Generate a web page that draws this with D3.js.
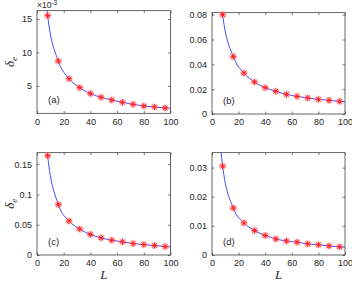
<!DOCTYPE html>
<html>
<head>
<meta charset="utf-8">
<script src="https://cdn.jsdelivr.net/npm/d3@7"></script>
<style>
  body { margin: 0; background: #fff; }
  svg { display: block; }
  .tick text { font-family: "Liberation Sans", Arial, sans-serif; font-size: 9px; fill: #262626; }
</style>
</head>
<body>
<div id="chart"></div>
<script>
// system size L at which delta_e was computed
const sizes = [8, 16, 24, 32, 40, 48, 56, 64, 72, 80, 88, 96];

// star markers (panel a in units of 1e-3)
const deltaA = [15.5, 8.71, 6.09, 4.75, 3.86, 3.31, 2.91, 2.56, 2.26, 2.01, 1.87, 1.72];
const deltaB = [0.0800, 0.0462, 0.0330, 0.0258, 0.0212, 0.0183, 0.0158, 0.0142, 0.0129, 0.0118, 0.0110, 0.0102];
const deltaC = [0.164, 0.0833, 0.0561, 0.0428, 0.0339, 0.0283, 0.0244, 0.0217, 0.0189, 0.0172, 0.0156, 0.0139];
const deltaD = [0.0305, 0.0161, 0.0110, 0.0084, 0.0067, 0.0055, 0.0048, 0.0044, 0.0038, 0.0035, 0.0031, 0.0028];

// blue fitted curve: extra ends (left end runs out the top)
const fitStartA = [7, 17.4],   fitEndA = [100, 1.67];
const fitStartB = [7, 0.089],  fitEndB = [100, 0.0099];
const fitStartC = [7, 0.186],  fitEndC = [100, 0.0133];
const fitStartD = [6.5, 0.0368], fitEndD = [100, 0.0027];

const xTicks = [0, 20, 40, 60, 80, 100];
const yTicksA = [5, 10, 15];
const yTicksB = [0, 0.02, 0.04, 0.06, 0.08];
const yTicksC = [0, 0.05, 0.1, 0.15];
const yTicksD = [0, 0.01, 0.02, 0.03];

const panels = [
  { tag: "(a)", stars: deltaA, fit: [fitStartA, fitEndA], yTicks: yTicksA, yDomain: [0.92, 16.24],
    box: { x0: 37, x1: 170.5, y0: 10.7, y1: 113.3 }, ylabel: true, xlabel: false, exp: true },
  { tag: "(b)", stars: deltaB, fit: [fitStartB, fitEndB], yTicks: yTicksB, yDomain: [0, 0.0816],
    box: { x0: 212, x1: 345, y0: 12.7, y1: 114 }, ylabel: false, xlabel: false },
  { tag: "(c)", stars: deltaC, fit: [fitStartC, fitEndC], yTicks: yTicksC, yDomain: [0, 0.169],
    box: { x0: 37, x1: 170.5, y0: 152.7, y1: 255 }, ylabel: true, xlabel: true },
  { tag: "(d)", stars: deltaD, fit: [fitStartD, fitEndD], yTicks: yTicksD, yDomain: [0, 0.0351],
    box: { x0: 212, x1: 345, y0: 152.7, y1: 255 }, ylabel: false, xlabel: true }
];

const width = 352, height = 281;
const axisColor = "#262626";

const svg = d3.select("#chart").append("svg")
  .attr("width", width)
  .attr("height", height);

panels.forEach((p, i) => {
  const b = p.box;
  const x = d3.scaleLinear().domain([0, 100]).range([b.x0, b.x1]);
  const y = d3.scaleLinear().domain(p.yDomain).range([b.y1, b.y0]);

  const g = svg.append("g");

  g.append("clipPath").attr("id", "clip" + i)
    .append("rect")
    .attr("x", b.x0).attr("y", b.y0)
    .attr("width", b.x1 - b.x0).attr("height", b.y1 - b.y0);

  // axes, matlab style: ticks inside, mirrored on the box
  const styleAxis = sel => {
    sel.select(".domain").remove();
    sel.selectAll(".tick line").attr("stroke", axisColor).attr("stroke-width", 0.6);
  };
  g.append("g")
    .attr("transform", `translate(0,${b.y1})`)
    .call(d3.axisBottom(x).tickValues(xTicks).tickSizeInner(-2.5).tickSizeOuter(0).tickPadding(5).tickFormat(d3.format("d")))
    .call(styleAxis);
  g.append("g")
    .attr("transform", `translate(0,${b.y0})`)
    .call(d3.axisTop(x).tickValues(xTicks).tickSizeInner(-2.5).tickSizeOuter(0).tickFormat(""))
    .call(styleAxis);
  g.append("g")
    .attr("transform", `translate(${b.x0},0)`)
    .call(d3.axisLeft(y).tickValues(p.yTicks).tickSizeInner(-2.5).tickSizeOuter(0).tickPadding(5).tickFormat(d => String(+d.toFixed(4))))
    .call(styleAxis);
  g.append("g")
    .attr("transform", `translate(${b.x1},0)`)
    .call(d3.axisRight(y).tickValues(p.yTicks).tickSizeInner(-2.5).tickSizeOuter(0).tickFormat(""))
    .call(styleAxis);

  g.append("rect")
    .attr("x", b.x0).attr("y", b.y0)
    .attr("width", b.x1 - b.x0).attr("height", b.y1 - b.y0)
    .attr("fill", "none")
    .attr("stroke", axisColor)
    .attr("stroke-width", 0.7);

  // fitted curve
  const fitPts = [p.fit[0]].concat(sizes.map((L, k) => [L, p.stars[k]]), [p.fit[1]]);
  const line = d3.line()
    .x(d => x(d[0]))
    .y(d => y(d[1]))
    .curve(d3.curveMonotoneX);
  g.append("path")
    .datum(fitPts)
    .attr("clip-path", `url(#clip${i})`)
    .attr("fill", "none")
    .attr("stroke", "#3333ff")
    .attr("stroke-width", 0.9)
    .attr("d", line);

  // star markers
  const stars = g.selectAll("g.star")
    .data(sizes.map((L, k) => [L, p.stars[k]]))
    .join("g")
    .attr("class", "star")
    .attr("transform", d => `translate(${x(d[0])},${y(d[1])})`);
  stars.append("circle")
    .attr("r", 3.8)
    .attr("fill", "#ff9090")
    .attr("opacity", 0.4);
  const r = 3, rd = r * 0.7071;
  stars.append("path")
    .attr("d", `M${-r},0L${r},0M0,${-r}L0,${r}M${-rd},${-rd}L${rd},${rd}M${-rd},${rd}L${rd},${-rd}`)
    .attr("stroke", "#ff2020")
    .attr("stroke-width", 1)
    .attr("fill", "none");

  // panel tag
  g.append("text")
    .attr("x", x(8.3))
    .attr("y", b.y1 - 10)
    .attr("font-family", "Liberation Sans, Arial, sans-serif")
    .attr("font-size", 9.5)
    .attr("fill", axisColor)
    .text(p.tag);

  if (p.ylabel) {
    const cy = (b.y0 + b.y1) / 2;
    const t = g.append("text")
      .attr("transform", `translate(${b.x0 - 23},${cy}) rotate(-90)`)
      .attr("text-anchor", "middle")
      .attr("font-family", "Liberation Serif, Times New Roman, serif")
      .attr("font-style", "italic")
      .attr("font-size", 13)
      .attr("fill", axisColor);
    t.append("tspan").text("δ");
    t.append("tspan").attr("font-size", 9).attr("dy", 3).text("e");
  }

  if (p.xlabel) {
    g.append("text")
      .attr("x", (b.x0 + b.x1) / 2)
      .attr("y", 278.5)
      .attr("text-anchor", "middle")
      .attr("font-family", "Liberation Serif, Times New Roman, serif")
      .attr("font-style", "italic")
      .attr("font-size", 13)
      .attr("fill", axisColor)
      .text("L");
  }

  if (p.exp) {
    const t = g.append("text")
      .attr("x", b.x0)
      .attr("y", b.y0 - 2.5)
      .attr("font-family", "Liberation Sans, Arial, sans-serif")
      .attr("font-size", 8.5)
      .attr("fill", axisColor);
    t.append("tspan").text("×10");
    t.append("tspan").attr("font-size", 6.5).attr("dy", -3.5).text("-3");
  }
});
</script>
</body>
</html>
